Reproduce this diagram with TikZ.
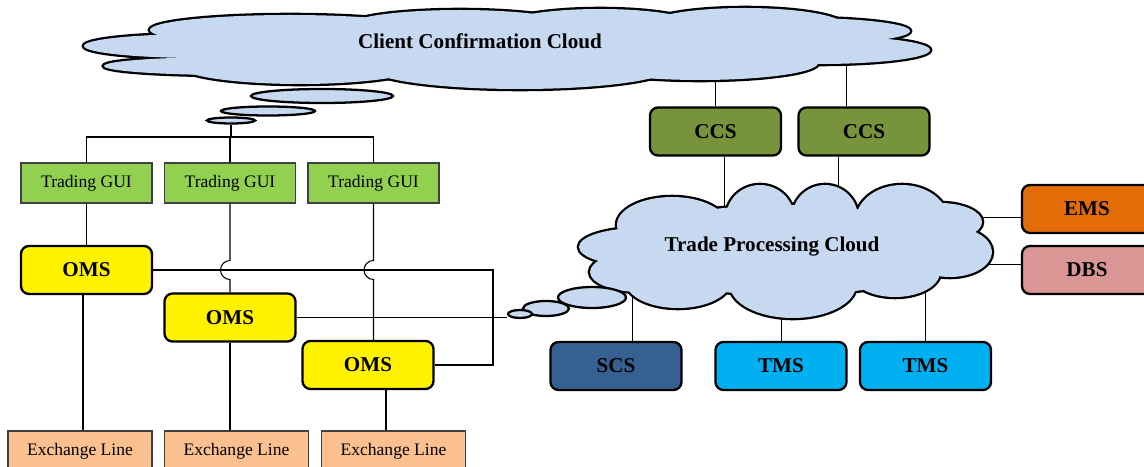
\documentclass[tikz,border=0pt]{standalone}
\usepackage{fontspec}
\setmainfont{Liberation Serif}
\usepackage{tikz}
\usetikzlibrary{shapes.geometric,backgrounds}
\definecolor{cloudblue}{RGB}{198,217,240}
\definecolor{guigreen}{RGB}{146,208,80}
\definecolor{exorange}{RGB}{250,192,144}
\definecolor{ccsolive}{RGB}{119,147,60}
\definecolor{scsblue}{RGB}{55,96,146}
\definecolor{tmscyan}{RGB}{0,176,240}
\definecolor{emsorange}{RGB}{227,108,9}
\definecolor{dbspink}{RGB}{217,150,148}
\tikzset{
  net/.style={x=0.2mm, y=0.2mm, line width=0.6pt},
  sysbox/.style={draw, line width=1.3pt, rounded corners=1.6mm, minimum width=26.2mm, minimum height=9.6mm,
                 inner sep=0pt, font=\fontsize{12}{14}\selectfont\bfseries},
  plainbox/.style={draw=black!75, line width=0.6pt, minimum height=8mm, inner sep=0pt, font=\fontsize{10}{12}\selectfont},
  bubble/.style={ellipse, draw, fill=cloudblue, line width=1.3pt, inner sep=0pt},
  ctext/.style={font=\fontsize{12}{14}\selectfont\bfseries},
  hop/.style={line width=0.6pt}
}
% cloud lobes: centre x/y, x radius, y radius
\newcommand\ccpuffs{200/-46/116/12, 230/-66/126/9, 290/-30/140/15, 460/-25/110/15, 600/-25/95/16,
  745/-26/100/18, 800/-31/110/13, 820/-50/110/14, 700/-63/118/17, 520/-68/150/21, 300/-66/120/18, 500/-48/300/30}
\newcommand\tpcpuffs{640/-247/61/19, 672/-225/55/28, 760/-218/34/33, 825/-218/33/33, 902/-220/46/35,
  940/-222/42/19, 950/-252/42/25, 895/-272/45/25, 793/-285/63/33, 678/-282/52/26, 640/-272/50/20, 785/-250/170/45}
% stroke every lobe wide, then fill them all over the inner half of the stroke
\newcommand\puffcloud[1]{%
  \foreach \cx/\cy/\rx/\ry in #1 \draw[line width=2.6pt] (\cx,\cy) ellipse[x radius=\rx, y radius=\ry];
  \foreach \cx/\cy/\rx/\ry in #1 \fill[cloudblue] (\cx,\cy) ellipse[x radius=\rx, y radius=\ry];}

\begin{document}
\begin{tikzpicture}[net]
\useasboundingbox (0,0) rectangle (1144,-467);

% client cloud
\puffcloud{\ccpuffs}
\coordinate (ccloud) at (507,-48);
\node[ctext] (ctxt) at (480,-41) {Client Confirmation Cloud};
\node[bubble, minimum width=28.4mm, minimum height=2.8mm] (cb1) at (322,-96) {};
\node[bubble, minimum width=18.8mm, minimum height=1.8mm] (cb2) at (268,-111) {};
\node[bubble, minimum width=9.6mm, minimum height=1.2mm] (cb3) at (231,-120.5) {};

% trade processing cloud
\puffcloud{\tpcpuffs}
\coordinate (tcloud) at (785,-250);
\node[ctext] (ttxt) at (772,-247) {Trade Processing Cloud};
\node[bubble, minimum width=13.6mm, minimum height=4.2mm] (tb1) at (592,-297.5) {};
\node[bubble, minimum width=9.2mm, minimum height=3mm] (tb2) at (546,-308.5) {};
\node[bubble, minimum width=4.8mm, minimum height=1.6mm] (tb3) at (520,-314) {};

% left column: GUIs, order managers, exchange lines
\foreach \i/\x in {1/86.5, 2/230, 3/373.5}
  \node[plainbox, fill=guigreen, minimum width=26.2mm] (gui\i) at (\x,-183) {Trading GUI};
\node[sysbox, fill=yellow] (oms1) at (86.5,-270) {OMS};
\node[sysbox, fill=yellow] (oms2) at (230,-317.5) {OMS};
\node[sysbox, fill=yellow] (oms3) at (368,-365) {OMS};
\foreach \i/\x in {1/80, 2/236.5, 3/393.5}
  \node[plainbox, fill=exorange, minimum width=28.8mm] (el\i) at (\x,-451) {Exchange Line};

% right side systems
\node[sysbox, fill=ccsolive] (ccs1) at (715.5,-131.5) {CCS};
\node[sysbox, fill=ccsolive] (ccs2) at (864,-131.5) {CCS};
\node[sysbox, fill=scsblue] (scs) at (616,-366) {SCS};
\node[sysbox, fill=tmscyan] (tms1) at (781,-366) {TMS};
\node[sysbox, fill=tmscyan] (tms2) at (925.5,-366) {TMS};
\node[sysbox, fill=emsorange, minimum width=26mm] (ems) at (1087,-209) {EMS};
\node[sysbox, fill=dbspink, minimum width=26mm] (dbs) at (1087,-270) {DBS};

% links that run into the clouds
\begin{scope}[on background layer]
  \draw (ccs1.north) -- (ccs1.north |- ccloud);
  \draw ([xshift=-3.6mm]ccs2.north) -- ([xshift=-3.6mm]ccs2.north |- ccloud);
  \draw ([xshift=1.7mm]ccs1.south) -- ([xshift=1.7mm]ccs1.south |- tcloud);
  \draw ([xshift=-5.2mm]ccs2.south) -- ([xshift=-5.2mm]ccs2.south |- tcloud);
  \draw ([xshift=3.2mm]scs.north) -- ([xshift=3.2mm]scs.north |- tcloud);
  \draw (tms1.north) -- (tms1.north |- tcloud);
  \draw (tms2.north) -- (tms2.north |- tcloud);
  \draw ([yshift=-1.6mm]ems.west) -- ([yshift=-1.6mm]ems.west -| tcloud);
  \draw ([yshift=1.2mm]dbs.west) -- ([yshift=1.2mm]dbs.west -| tcloud);
\end{scope}

% GUIs hang off the client cloud
\coordinate (tbar) at (232,-137);
\draw (cb3.south) -- (cb3.south |- tbar);
\draw (gui1.north) |- (tbar) -| (gui3.north);
\draw (gui2.north) -- (gui2.north |- tbar);

% GUI -> OMS, hopping over the OMS1 line
\draw (gui1.south) -- (oms1.north);
\draw[hop] (gui2.south) -- ([yshift=1.9mm]gui2.south |- oms1.east) arc[start angle=90, end angle=270, radius=1.9mm] -- (gui2.south |- oms2.north);
\draw[hop] (gui3.south) -- ([yshift=1.9mm]gui3.south |- oms1.east) arc[start angle=90, end angle=270, radius=1.9mm] -- (gui3.south |- oms3.north);

% OMS -> exchange lines
\draw ([xshift=-0.7mm]oms1.south) -- ([xshift=-0.7mm]oms1.south |- el1.north);
\draw (oms2.south) -- (oms2.south |- el2.north);
\draw ([xshift=-1.5mm]el3.north) -- ([xshift=-1.5mm]el3.north |- oms3.south);

% OMS links into the trade cloud
\coordinate (jn) at (493,-313);
\draw (oms1.east) -| (jn) |- (oms3.east);
\draw (oms2.east) -- (oms2.east -| tb3.west);
\end{tikzpicture}
\end{document}
